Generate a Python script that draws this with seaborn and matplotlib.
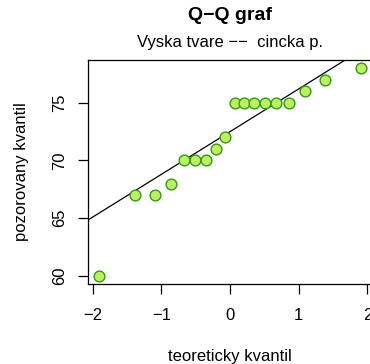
import numpy as np
import pandas as pd
import matplotlib
matplotlib.use("Agg")
import matplotlib.pyplot as plt
import seaborn as sns

sns.set_style("ticks")
plt.rcParams['font.family'] = ['Liberation Sans', 'DejaVu Sans']
plt.rcParams['text.color'] = 'black'
plt.rcParams['axes.labelcolor'] = 'black'
plt.rcParams['xtick.color'] = 'black'
plt.rcParams['ytick.color'] = 'black'

theoretical = [-1.915, -1.383, -1.085, -0.862, -0.674, -0.508, -0.355, -0.210, -0.070,
               0.070, 0.210, 0.355, 0.508, 0.674, 0.862, 1.085, 1.383, 1.915]
observed = [60, 67, 67, 68, 70, 70, 70, 71, 72, 75, 75, 75, 75, 75, 75, 76, 77, 78]
xticks = [-2, -1, 0, 1, 2]
yticks = [60, 65, 70, 75]

df = pd.DataFrame({"x": theoretical, "y": observed})

fig = plt.figure(figsize=(3.70, 3.64), dpi=100)
ax = fig.add_axes([88/370, 1 - 284/364, 284/370, 224/364])

# reference line through quartiles
q1, q3 = np.percentile(observed, [25, 75])
tq = 0.6745
slope = (q3 - q1) / (2 * tq)
icpt = q1 + slope * tq
xl = np.array([-3, 3])
ax.plot(xl, icpt + slope * xl, color="black", lw=0.9)

sns.scatterplot(data=df, x="x", y="y", ax=ax, s=60, color="#BDF25A",
                edgecolor="#2E9A1E", linewidth=1.0, zorder=3)

ax.set_xlim(-2.068, 2.068)
ax.set_ylim(59.28, 78.72)
ax.set_xticks(xticks)
ax.set_xticklabels(["\u22122", "\u22121", "0", "1", "2"])
ax.set_yticks(yticks)
ax.set_yticklabels([str(v) for v in yticks], rotation=90, va="center")
ax.tick_params(direction="out", length=7, width=0.9, labelsize=12,
               color="black", labelcolor="black")
ax.tick_params(axis="x", pad=10)
ax.tick_params(axis="y", pad=8)
for s in ax.spines.values():
    s.set_visible(True)
    s.set_linewidth(0.9)
    s.set_color("black")
ax.set_xlabel("teoreticky kvantil", fontsize=12, labelpad=19, color="black")
ax.set_ylabel("pozorovany kvantil", fontsize=12, labelpad=17, color="black")

fig.text(230/370, 1 - 15/364, "Q\u2212Q graf", ha="center", va="center",
         fontsize=14, fontweight="bold", color="black")
fig.text(230/370, 1 - 42/364, "Vyska tvare \u2212\u2212  cincka p.", ha="center",
         va="center", fontsize=12, color="black")

fig.savefig("out.png", dpi=100)
